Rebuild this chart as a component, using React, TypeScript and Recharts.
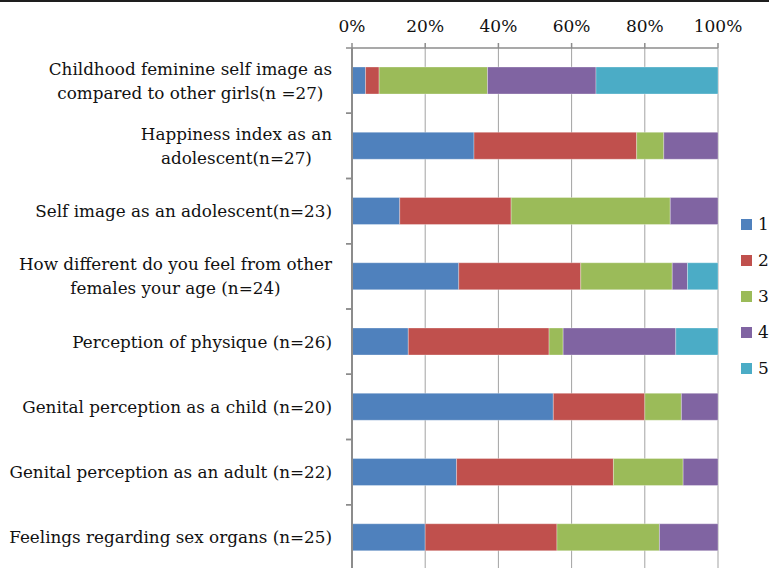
import { BarChart, Bar, XAxis, YAxis, CartesianGrid, Legend } from 'recharts'

const CATEGORIES = [
  'Childhood feminine self image as\ncompared to other girls(n =27)',
  'Happiness index as an\nadolescent(n=27)',
  'Self image as an adolescent(n=23)',
  'How different do you feel from other\nfemales your age (n=24)',
  'Perception of physique (n=26)',
  'Genital perception as a child (n=20)',
  'Genital perception as an adult (n=22)',
  'Feelings regarding sex organs (n=25)',
]

// respondent counts per answer level
const LEVEL_1 = [1, 9, 3, 7, 4, 11, 6, 5]
const LEVEL_2 = [1, 12, 7, 8, 10, 5, 9, 9]
const LEVEL_3 = [8, 2, 10, 6, 1, 2, 4, 7]
const LEVEL_4 = [8, 4, 3, 1, 8, 2, 2, 4]
const LEVEL_5 = [9, 0, 0, 2, 3, 0, 0, 0]

const PCT_TICKS = [0, 0.2, 0.4, 0.6, 0.8, 1]

const SERIES = [
  { key: 'l1', name: '1', color: '#4F81BD', values: LEVEL_1 },
  { key: 'l2', name: '2', color: '#C0504D', values: LEVEL_2 },
  { key: 'l3', name: '3', color: '#9BBB59', values: LEVEL_3 },
  { key: 'l4', name: '4', color: '#8064A2', values: LEVEL_4 },
  { key: 'l5', name: '5', color: '#4BACC6', values: LEVEL_5 },
]

const data = CATEGORIES.map((name, i) => {
  const row: Record<string, string | number> = { name }
  SERIES.forEach(s => { row[s.key] = s.values[i] })
  return row
})

const FONT = '"DejaVu Serif", serif'
const LABEL_SIZE = 16.8
const PLOT_TOP = 48
const PLOT_BOTTOM = 570
const BAND_HALF = (PLOT_BOTTOM - PLOT_TOP) / CATEGORIES.length / 2

let measureCtx: CanvasRenderingContext2D | null = null
function textWidth(s: string) {
  if (!measureCtx) measureCtx = document.createElement('canvas').getContext('2d')
  if (!measureCtx) return s.length * LABEL_SIZE * 0.55
  measureCtx.font = `${LABEL_SIZE}px "DejaVu Serif"`
  return measureCtx.measureText(s).width
}

// tick x arrives 8px left of the axis (default size 6 + margin 2)
// wrapped labels: lines centred on each other, block right-aligned
function CategoryTick(props: any) {
  const { x, y, payload } = props
  const axisX = x + 8
  const right = axisX - 20
  const lines = String(payload.value).split('\n')
  const lineH = 24
  const startY = y - ((lines.length - 1) * lineH) / 2
  const maxW = Math.max(...lines.map(textWidth))
  const cx = right - maxW / 2
  return (
    <g>
      <line x1={axisX - 6} x2={axisX} y1={y - BAND_HALF} y2={y - BAND_HALF} stroke="#8c8c8c" strokeWidth={1.5} />
      <line x1={axisX - 6} x2={axisX} y1={y + BAND_HALF} y2={y + BAND_HALF} stroke="#8c8c8c" strokeWidth={1.5} />
      <text x={cx} y={startY} textAnchor="middle" fontFamily={FONT} fontSize={LABEL_SIZE} fill="#111">
        {lines.map((l, i) => (
          <tspan key={i} x={cx} dy={i === 0 ? '0.35em' : lineH}>{l}</tspan>
        ))}
      </text>
    </g>
  )
}

function LegendBox() {
  return (
    <div style={{ fontFamily: FONT, fontSize: 17, color: '#111' }}>
      {SERIES.map(s => (
        <div key={s.key} style={{ display: 'flex', alignItems: 'center', height: 36 }}>
          <span style={{ width: 11, height: 11, background: s.color, marginRight: 6, display: 'inline-block' }} />
          <span>{s.name}</span>
        </div>
      ))}
    </div>
  )
}

export default function App() {
  return (
    <div style={{
      position: 'fixed', left: 0, top: 0, width: 769, height: 568, overflow: 'hidden',
      background: '#fff', borderTop: '2px solid #1e1e1e', boxSizing: 'border-box',
    }}>
      <BarChart
        width={769}
        height={578}
        data={data}
        layout="vertical"
        stackOffset="expand"
        margin={{ top: 6, right: 51, bottom: 10, left: 0 }}
      >
        <CartesianGrid horizontal={false} stroke="#a3a3a3" strokeWidth={1} />
        <XAxis
          type="number"
          orientation="top"
          domain={[0, 1]}
          ticks={PCT_TICKS}
          tickFormatter={v => `${Math.round(v * 100)}%`}
          height={40}
          tickSize={5}
          tickMargin={11}
          axisLine={{ stroke: '#8c8c8c', strokeWidth: 1.5 }}
          tickLine={{ stroke: '#8c8c8c', strokeWidth: 1.5 }}
          tick={{ fontFamily: FONT, fontSize: 17, fill: '#111' }}
          interval={0}
        />
        <YAxis
          type="category"
          dataKey="name"
          width={352}
          axisLine={{ stroke: '#8c8c8c', strokeWidth: 2 }}
          tickLine={false}
          tick={<CategoryTick />}
          interval={0}
        />
        <Legend
          layout="vertical"
          align="center"
          verticalAlign="middle"
          wrapperStyle={{ left: 741, top: 204, width: 30 }}
          content={() => <LegendBox />}
        />
        {SERIES.map(s => (
          <Bar
            key={s.key}
            dataKey={s.key}
            name={s.name}
            stackId="a"
            fill={s.color}
            barSize={27}
            stroke="#ffffff"
            strokeOpacity={0.5}
            strokeWidth={0.6}
            isAnimationActive={false}
          />
        ))}
      </BarChart>
    </div>
  )
}
